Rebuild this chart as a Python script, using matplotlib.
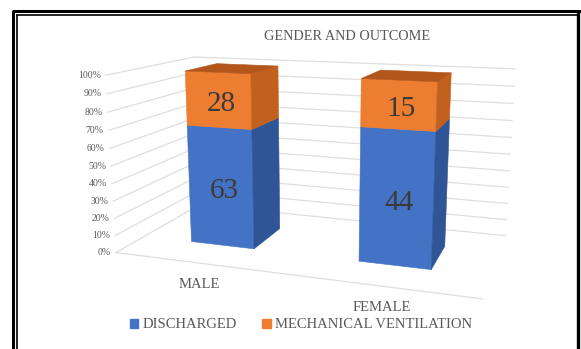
import numpy as np
import matplotlib.pyplot as plt
from matplotlib.lines import Line2D
from matplotlib.patches import Patch

categories = ["MALE", "FEMALE"]
discharged = [63, 44]
ventilation = [28, 15]
series_names = ["DISCHARGED", "MECHANICAL VENTILATION"]
pct_ticks = [0, 10, 20, 30, 40, 50, 60, 70, 80, 90, 100]

plt.rcParams['font.family'] = ['Liberation Serif', 'DejaVu Serif']

BLUE, BLUE_SIDE = "#4472C4", "#2F5597"
ORANGE, ORANGE_SIDE, ORANGE_TOP = "#ED7D31", "#C2601E", "#B3561B"
GRID = "#DEDEDE"
TXT = "#595959"

W, H = 581.0, 349.0
fig = plt.figure(figsize=(W / 100, H / 100), dpi=100)
ax = fig.add_axes([0, 0, 1, 1])
ax.set_xlim(0, W)
ax.set_ylim(H, 0)
ax.axis("off")

# simple perspective camera for the 3-D column look
AZ, EL, CAM = np.radians(19), np.radians(13), 4.5
WD, WZ = 1.0, 0.98          # floor depth and wall height (category units)
K, OX, OY = 180.0, 317.0, 160.0

def project(x, d, z):
    px = np.asarray(x, float) - 1.0
    pd = (np.asarray(d, float) - 0.5) * WD
    pz = (np.asarray(z, float) - 0.5) * WZ
    xr = px * np.cos(AZ) + pd * np.sin(AZ)
    dr = -px * np.sin(AZ) + pd * np.cos(AZ)
    up = pz * np.cos(EL) + dr * np.sin(EL)
    dd = dr * np.cos(EL) - pz * np.sin(EL)
    s = CAM / (CAM + dd)
    return OX + K * xr * s, OY - K * up * s

def line3(x, d, z, **kw):
    u, v = project(x, d, z)
    ax.plot(u, v, zorder=1, **kw)

def face(x, d, z, color):
    u, v = project(x, d, z)
    ax.fill(u, v, color=color, lw=0.4, ec=color, zorder=2)

# walls: back and left gridlines, floor edges
for p in pct_ticks:
    z = p / 100
    line3([0, 2], [1, 1], [z, z], color=GRID, lw=0.9)
    line3([0, 0], [0, 1], [z, z], color=GRID, lw=0.9)
    u, v = project(0, 0, z)
    ax.text(u - 5, v, f"{p}%", ha="right", va="center", fontsize=7, color=TXT)
line3([0, 2], [0, 0], [0, 0], color=GRID, lw=0.9)

# 100% stacked columns
bw, bd = 0.39, 0.39
d0, d1 = 0.5 - bd / 2, 0.5 + bd / 2
for i, (dis, ven) in enumerate(zip(discharged, ventilation)):
    tot = dis + ven
    x0, x1 = i + 0.5 - bw / 2, i + 0.5 + bw / 2
    segs = [(0, dis / tot, BLUE, BLUE_SIDE, dis),
            (dis / tot, 1.0, ORANGE, ORANGE_SIDE, ven)]
    for zb, zt, c_front, c_side, val in segs:
        face([x0, x1, x1, x0], [d0] * 4, [zb, zb, zt, zt], c_front)
        face([x1] * 4, [d0, d1, d1, d0], [zb, zb, zt, zt], c_side)
        u, v = project(i + 0.5, d0, (zb + zt) / 2)
        ax.text(u + 3, v + 4, str(val), ha="center", va="center",
                fontsize=21, color="#3A3A3A", zorder=3)
    face([x0, x1, x1, x0], [d0, d0, d1, d1], [1.0] * 4, ORANGE_TOP)
    u, v = project(i + 0.5, 0, 0)
    ax.text(u + 2, v + 22, categories[i], ha="center", va="center",
            fontsize=10.5, color=TXT)

fig.text(347 / W, 1 - 36 / H, "GENDER AND OUTCOME", ha="center", va="center",
         fontsize=10.3, color=TXT)

handles = [Patch(color=BLUE), Patch(color=ORANGE)]
fig.legend(handles, series_names, loc="center", bbox_to_anchor=(301 / W, 1 - 325 / H),
           ncol=2, frameon=False, fontsize=10.5, handlelength=0.6, handleheight=0.6,
           handletextpad=0.3, columnspacing=1.7, labelcolor=TXT)

# double black frame around the chart
def frame_line(x0, y0, x1, y1, lw):
    fig.add_artist(Line2D([x0 / W, x1 / W], [1 - y0 / H, 1 - y1 / H],
                          transform=fig.transFigure, color="black", lw=lw,
                          solid_capstyle="butt"))
frame_line(13, 11, 13, 349, 2.2)
frame_line(16.5, 15, 16.5, 349, 1.2)
frame_line(12, 11, 581, 11, 2.2)
frame_line(16, 15, 577, 15, 1.2)
frame_line(577.5, 11, 577.5, 349, 2.4)

fig.savefig("out.png", dpi=100)
